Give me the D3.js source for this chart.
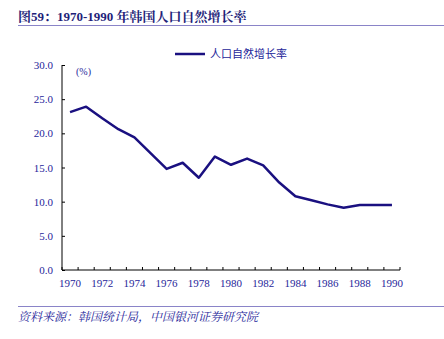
<!DOCTYPE html>
<html><head><meta charset="utf-8">
<script src="https://cdn.jsdelivr.net/npm/d3@7"></script>
<style>body{margin:0;background:#fff}</style>
</head><body>
<svg id="c" width="444" height="339"></svg>
<script>
const years = [1970,1971,1972,1973,1974,1975,1976,1977,1978,1979,1980,1981,1982,1983,1984,1985,1986,1987,1988,1989,1990];
const rates = [23.1,23.9,22.2,20.6,19.4,17.1,14.8,15.7,13.5,16.6,15.4,16.3,15.3,12.8,10.8,10.2,9.6,9.1,9.5,9.5,9.5];
const yTicks = [0,5,10,15,20,25,30];
const xLabels = [1970,1972,1974,1976,1978,1980,1982,1984,1986,1988,1990];
const title = "图59：1970-1990 年韩国人口自然增长率";
const seriesName = "人口自然增长率";
const source = "资料来源：韩国统计局，中国银河证券研究院";
const unit = "(%)";

const svg = d3.select("#c");
const navy = "#1f1f7a";
const serif = "'Liberation Serif','Times New Roman',serif";
const cjk = "'Noto Sans CJK SC',sans-serif";

svg.append("text").attr("x",18).attr("y",21).attr("fill",navy)
  .attr("font-family","'Liberation Serif','Noto Serif CJK SC','Noto Sans CJK SC',serif")
  .attr("font-weight","bold").attr("font-size",13).text(title);
svg.append("line").attr("x1",18).attr("x2",444).attr("y1",25.5).attr("y2",25.5)
  .attr("stroke","#8a84c8").attr("stroke-width",1);

const x = d3.scaleBand().domain(years).range([62,400]);
const y = d3.scaleLinear().domain([0,30]).range([270,65]);

// y axis
const ya = svg.append("g").attr("transform","translate(62,0)")
  .call(d3.axisRight(y).tickValues(yTicks).tickSize(3).tickFormat(""));
ya.select(".domain").attr("stroke","#000").attr("d","M0,65V270");
ya.selectAll(".tick line").attr("stroke","#000");
svg.append("g").selectAll("text").data(yTicks).join("text")
  .attr("x",53).attr("y",d=>y(d)+4).attr("text-anchor","end")
  .attr("font-family",serif).attr("font-size",11).attr("fill","#26269a")
  .text(d=>d.toFixed(1));

// x axis
const xa = svg.append("g").attr("transform","translate(0,270)");
xa.append("line").attr("x1",62).attr("x2",400).attr("y1",0).attr("y2",0).attr("stroke","#000");
const bounds = years.map(d=>x(d)).concat([x.range()[1]]);
xa.selectAll("line.t").data(bounds).join("line").attr("class","t")
  .attr("x1",d=>d).attr("x2",d=>d).attr("y1",0).attr("y2",-3).attr("stroke","#000");
xa.selectAll("text").data(xLabels).join("text")
  .attr("x",d=>x(d)+x.bandwidth()/2).attr("y",17).attr("text-anchor","middle")
  .attr("font-family",serif).attr("font-size",11).attr("fill","#26269a").text(d=>d);

svg.append("text").attr("x",76).attr("y",75).attr("font-family",serif)
  .attr("font-size",10).attr("fill","#26269a").text(unit);

// line
const line = d3.line().x((d,i)=>x(years[i])+x.bandwidth()/2).y(d=>y(d));
svg.append("path").datum(rates).attr("d",line).attr("fill","none")
  .attr("stroke","#1a1080").attr("stroke-width",2.5).attr("stroke-linejoin","round");

// legend
svg.append("line").attr("x1",175).attr("x2",205).attr("y1",54).attr("y2",54)
  .attr("stroke","#1a1080").attr("stroke-width",2.5);
svg.append("text").attr("x",210).attr("y",58).attr("font-family",cjk)
  .attr("font-size",11).attr("fill","#26269a").text(seriesName);

// footer
svg.append("line").attr("x1",18).attr("x2",444).attr("y1",306.5).attr("y2",306.5)
  .attr("stroke","#8a84c8").attr("stroke-width",1);
svg.append("text").attr("x",18).attr("y",321).attr("font-family","'Noto Serif CJK SC','Noto Sans CJK SC',serif")
  .attr("font-style","italic").attr("font-size",12).attr("fill","#26269a").text(source);
</script>
</body></html>
